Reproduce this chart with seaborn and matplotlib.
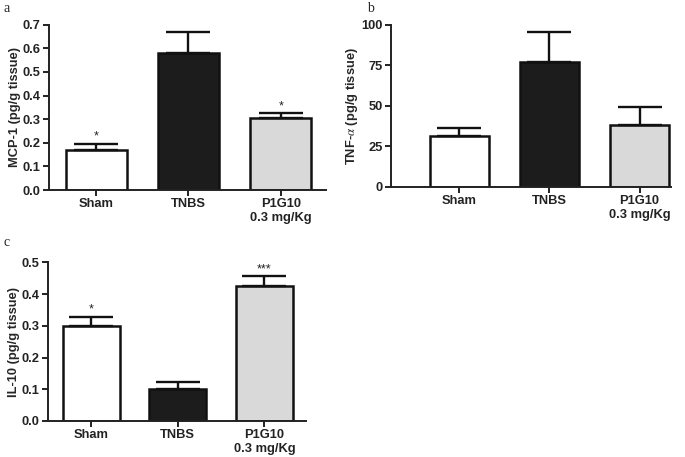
import numpy as np
import pandas as pd
import matplotlib
matplotlib.use("Agg")
import matplotlib.pyplot as plt
import seaborn as sns

groups = ["Sham", "TNBS", "P1G10\n0.3 mg/Kg"]
colors = ["white", "#1c1c1c", "#d9d9d9"]

mcp1_mean = [0.17, 0.58, 0.305]
mcp1_err = [0.027, 0.09, 0.02]
mcp1_marks = ["*", "", "*"]

tnf_mean = [31, 77, 38]
tnf_err = [5.5, 18.5, 11]
tnf_marks = ["", "", ""]

il10_mean = [0.30, 0.10, 0.425]
il10_err = [0.028, 0.022, 0.031]
il10_marks = ["*", "", "***"]

sns.set_style("ticks")
plt.rcParams["font.family"] = ["Liberation Sans", "DejaVu Sans"]
plt.rcParams["mathtext.fontset"] = "stix"

fig = plt.figure(figsize=(6.85, 4.57), dpi=100)


def panel(rect, mean, err, marks, ylim, yticks, ylabel, xlim, letter, fmt):
    ax = fig.add_axes(rect)
    df = pd.DataFrame({"group": groups, "value": mean})
    sns.barplot(data=df, x="group", y="value", hue="group", palette=colors,
                order=groups, hue_order=groups, legend=False, errorbar=None,
                width=0.66, edgecolor="#111111", linewidth=1.8, ax=ax)
    ax.errorbar(range(3), mean, yerr=[np.zeros(3), err], fmt="none",
                ecolor="#111111", elinewidth=1.7, capsize=16, capthick=1.7,
                zorder=1)
    span = ylim[1] - ylim[0]
    for i, m in enumerate(marks):
        if m:
            ax.text(i, mean[i] + err[i] + span * 0.008, m, ha="center",
                    va="bottom", fontsize=9, color="#222222")
    ax.set_xlim(*xlim)
    ax.set_ylim(*ylim)
    ax.set_yticks(yticks)
    ax.set_yticklabels([fmt.format(t) for t in yticks])
    ax.set_xlabel("")
    ax.set_ylabel(ylabel, fontsize=9.3, fontweight="bold")
    sns.despine(ax=ax)
    for s in ["left", "bottom"]:
        ax.spines[s].set_linewidth(1.4)
        ax.spines[s].set_color("#222222")
    ax.tick_params(axis="both", direction="out", length=4, width=1.4,
                   labelsize=9.3, pad=2, colors="#222222")
    for lab in ax.get_xticklabels() + ax.get_yticklabels():
        lab.set_fontweight("bold")
    ax.yaxis.labelpad = 1
    fig.text(letter[0] / 685, 1 - letter[1] / 457, letter[2], fontsize=10,
             family="Liberation Serif", ha="left", va="center")
    return ax


panel([0.0715, 0.5842, 0.4044, 0.3617], mcp1_mean, mcp1_err, mcp1_marks,
      (0, 0.7), np.arange(0, 0.71, 0.1), "MCP-1 (pg/g tissue)",
      (-0.51, 2.49), (3, 9, "a"), "{:.1f}")
panel([0.5708, 0.5915, 0.4088, 0.3545], tnf_mean, tnf_err, tnf_marks,
      (0, 100), [0, 25, 50, 75, 100], r"TNF-$\alpha$ (pg/g tissue)",
      (-0.76, 2.35), (367, 8, "b"), "{:.0f}")
panel([0.0701, 0.0788, 0.3766, 0.3473], il10_mean, il10_err, il10_marks,
      (0, 0.5), np.arange(0, 0.51, 0.1), "IL-10 (pg/g tissue)",
      (-0.5, 2.48), (3, 243, "c"), "{:.1f}")

fig.savefig("out.png", dpi=100)
